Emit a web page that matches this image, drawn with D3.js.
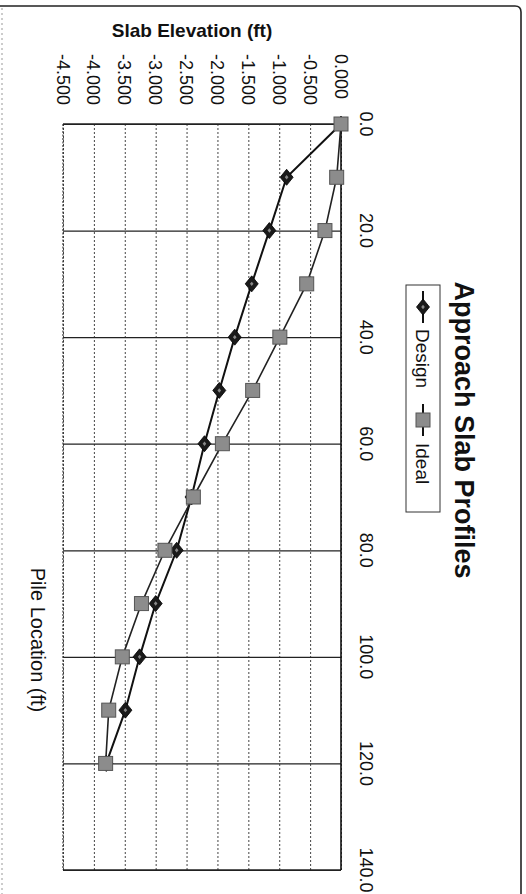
<!DOCTYPE html>
<html>
<head>
<meta charset="utf-8">
<script src="https://cdn.jsdelivr.net/npm/d3@7"></script>
<style>
  body { margin: 0; background: #fff; }
  svg { display: block; }
</style>
</head>
<body>
<script>
// Pile locations (ft) and slab elevations (ft) for the two profiles
const pileLocations = [0, 10, 20, 30, 40, 50, 60, 70, 80, 90, 100, 110, 120];
const designElev = [0, -0.88, -1.16, -1.445, -1.72, -1.97, -2.21, -2.42, -2.66, -3.00, -3.26, -3.49, -3.80];
const idealElev  = [0, -0.07, -0.26, -0.555, -0.99, -1.43, -1.92, -2.39, -2.85, -3.23, -3.54, -3.76, -3.81];
const seriesNames = ["Design", "Ideal"];
const elevTicks = [0, -0.5, -1, -1.5, -2, -2.5, -3, -3.5, -4, -4.5];
const pileTicks = [0, 20, 40, 60, 80, 100, 120, 140];

const W = 526, H = 894;
const FONT = "Arial, 'Liberation Sans', Helvetica, sans-serif";

// plain hyphen for negative numbers
const loc = d3.formatLocale({ decimal: ".", thousands: ",", grouping: [3], currency: ["$", ""], minus: "-" });
const fmtElev = loc.format(".3f");
const fmtPile = loc.format(".1f");

const svg = d3.select("body").append("svg")
  .attr("width", W).attr("height", H)
  .style("font-family", FONT);

// The sheet is printed turned a quarter clockwise:
// pile location runs down the page, elevation runs across it.
const plotL = 63, plotR = 341, plotT = 124, plotB = 870;
const pile = d3.scaleLinear().domain([0, 140]).range([plotT, plotB]);
const elev = d3.scaleLinear().domain([-4.5, 0]).range([plotL, plotR]);

// outer chart-area frame
svg.append("path")
  .attr("d", `M0,6 H515 Q521,6 521,12 V${H}`)
  .attr("fill", "none").attr("stroke", "#222").attr("stroke-width", 1.6);
svg.append("line")
  .attr("x1", 2).attr("x2", 2).attr("y1", 8).attr("y2", H)
  .attr("stroke", "#999").attr("stroke-width", 1).attr("stroke-dasharray", "2,3");

// elevation gridlines (dotted)
svg.append("g")
  .attr("transform", `translate(0,${plotT})`)
  .call(d3.axisBottom(elev).tickValues(elevTicks).tickSize(plotB - plotT).tickFormat(""))
  .call(g => g.select(".domain").remove())
  .selectAll("line")
  .attr("stroke", "#444").attr("stroke-width", 1).attr("stroke-dasharray", "2,2");

// pile-location gridlines (solid)
svg.append("g")
  .attr("transform", `translate(${plotL},0)`)
  .call(d3.axisRight(pile).tickValues(pileTicks).tickSize(plotR - plotL).tickFormat(""))
  .call(g => g.select(".domain").remove())
  .selectAll("line")
  .attr("stroke", "#222").attr("stroke-width", 1.2);

// plot frame: left edge dotted, the others solid
svg.append("line").attr("x1", plotL).attr("x2", plotL).attr("y1", plotT).attr("y2", plotB)
  .attr("stroke", "#333").attr("stroke-width", 1.2).attr("stroke-dasharray", "2,1.5");
svg.append("line").attr("x1", plotL).attr("x2", plotR).attr("y1", plotB).attr("y2", plotB)
  .attr("stroke", "#222").attr("stroke-width", 1.4);
svg.append("line").attr("x1", plotL).attr("x2", plotR).attr("y1", plotT).attr("y2", plotT)
  .attr("stroke", "#222").attr("stroke-width", 1.4);
// zero-elevation axis line
svg.append("line").attr("x1", elev(0)).attr("x2", elev(0)).attr("y1", plotT).attr("y2", plotB)
  .attr("stroke", "#111").attr("stroke-width", 1.6);

// elevation tick labels, turned with the sheet
svg.append("g").selectAll("text").data(elevTicks).join("text")
  .attr("transform", d => `translate(${elev(d)},54) rotate(90)`)
  .attr("dy", "0.36em")
  .attr("font-size", 18)
  .attr("fill", "#111")
  .text(d => fmtElev(d));

// pile tick labels
svg.append("g").selectAll("text").data(pileTicks).join("text")
  .attr("transform", d => `translate(366,${pile(d)}) rotate(90)`)
  .attr("dy", "0.36em")
  .attr("text-anchor", "middle")
  .attr("font-size", 18)
  .attr("fill", "#111")
  .text(d => fmtPile(d));

// axis titles
svg.append("text")
  .attr("x", 192).attr("y", 37)
  .attr("text-anchor", "middle")
  .attr("font-size", 19).attr("font-weight", "bold")
  .attr("fill", "#111")
  .text("Slab Elevation (ft)");

svg.append("text")
  .attr("transform", `translate(38,640) rotate(90)`)
  .attr("dy", "0.36em")
  .attr("text-anchor", "middle")
  .attr("font-size", 20)
  .attr("fill", "#111")
  .text("Pile Location (ft)");

// chart title
svg.append("text")
  .attr("transform", `translate(465,430) rotate(90)`)
  .attr("dy", "0.36em")
  .attr("text-anchor", "middle")
  .attr("font-size", 27).attr("font-weight", "bold")
  .attr("fill", "#111")
  .text("Approach Slab Profiles");

// markers
const diamond = "M0,-8 L6.5,0 L0,8 L-6.5,0 Z";
function drawDiamond(g) {
  g.append("path").attr("d", diamond).attr("fill", "#1a1a1a").attr("stroke", "#000").attr("stroke-width", 0.8);
  g.append("path").attr("d", "M0,-2.2 L1.8,0 L0,2.2 L-1.8,0 Z").attr("fill", "#888");
}
function drawSquare(g) {
  g.append("rect").attr("x", -7).attr("y", -7).attr("width", 14).attr("height", 14)
    .attr("fill", "#8c8c8c").attr("stroke", "#555").attr("stroke-width", 1);
}

const designPts = pileLocations.map((p, i) => ({ p, e: designElev[i] }));
const idealPts  = pileLocations.map((p, i) => ({ p, e: idealElev[i] }));
const line = d3.line().x(d => elev(d.e)).y(d => pile(d.p));

svg.append("path").datum(designPts).attr("d", line)
  .attr("fill", "none").attr("stroke", "#111").attr("stroke-width", 2);
svg.append("path").datum(idealPts).attr("d", line)
  .attr("fill", "none").attr("stroke", "#222").attr("stroke-width", 1.6);

svg.append("g").selectAll("g").data(designPts).join("g")
  .attr("transform", d => `translate(${elev(d.e)},${pile(d.p)})`)
  .each(function () { drawDiamond(d3.select(this)); });
svg.append("g").selectAll("g").data(idealPts).join("g")
  .attr("transform", d => `translate(${elev(d.e)},${pile(d.p)})`)
  .each(function () { drawSquare(d3.select(this)); });

// legend
const lg = svg.append("g");
lg.append("rect").attr("x", 406).attr("y", 285).attr("width", 34).attr("height", 227)
  .attr("fill", "#fff").attr("stroke", "#333").attr("stroke-width", 1);
const lx = 423;
const items = [
  { name: seriesNames[0], y0: 291, y1: 323, draw: drawDiamond, textY: 329 },
  { name: seriesNames[1], y0: 404, y1: 436, draw: drawSquare, textY: 443 }
];
items.forEach(it => {
  lg.append("line").attr("x1", lx).attr("x2", lx).attr("y1", it.y0).attr("y2", it.y1)
    .attr("stroke", "#111").attr("stroke-width", 2);
  it.draw(lg.append("g").attr("transform", `translate(${lx},${(it.y0 + it.y1) / 2})`));
  lg.append("text")
    .attr("transform", `translate(${lx},${it.textY}) rotate(90)`)
    .attr("dy", "0.36em")
    .attr("font-size", 19)
    .attr("fill", "#111")
    .text(it.name);
});
</script>
</body>
</html>
